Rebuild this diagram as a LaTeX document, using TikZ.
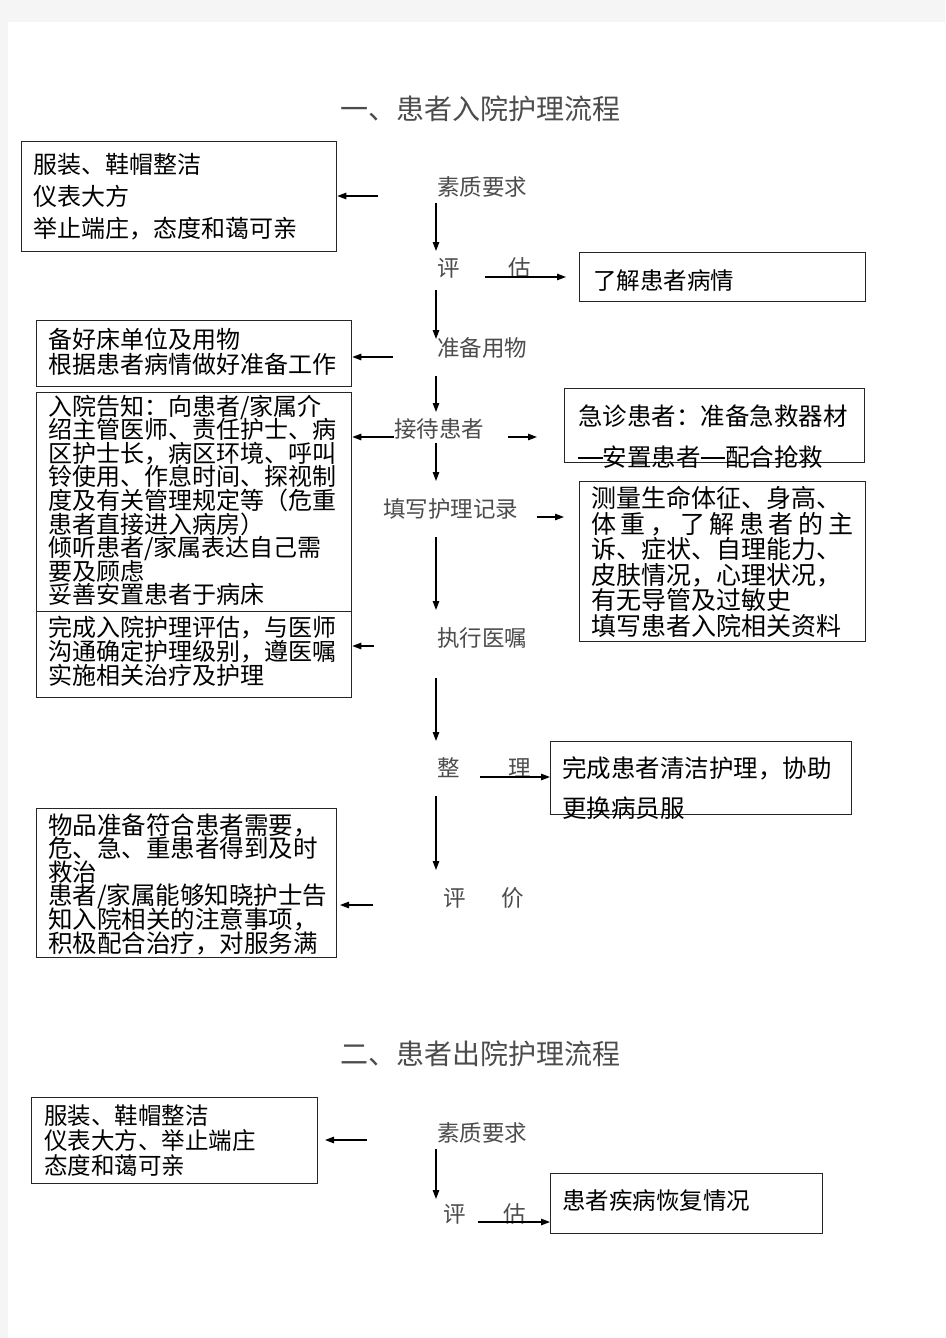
\documentclass[tikz,border=0pt]{standalone}
\usepackage{fontspec}
\newfontfamily\hei{Noto Sans CJK SC}
\usetikzlibrary{arrows.meta}
\newcommand\hzf[2]{\hei\fontsize{#1}{#2}\selectfont\lineskiplimit=-1000pt\lineskip=0pt}
\newcommand\emdsh{\rule[0.3em]{1em}{0.06em}}
\begin{document}
\begin{tikzpicture}[x=1pt,y=-1pt,
  bx/.style={draw=black!85, line width=1.3pt, inner sep=0pt, anchor=north west},
  bt/.style={anchor=base west, inner sep=0pt, align=left},
  lb/.style={anchor=base west, inner sep=0pt, text=black!70, font={\hei\fontsize{22.5}{23}\selectfont}},
  ttl/.style={anchor=base west, inner sep=0pt, text=black!70, font={\hei\fontsize{28}{28}\selectfont}},
  arr/.style={line width=1.2pt, -{Triangle[length=9pt,width=6.5pt]}},
]
\useasboundingbox (0,0) rectangle (945,1338);
\fill[black!4] (0,0) rectangle (945,1338);
\fill[white] (8,22) rectangle (945,1338);

% titles
\node[ttl] (t1) at (340,119) {一、患者入院护理流程};
\node[ttl] (t2) at (340,1064) {二、患者出院护理流程};

% boxes
\node[bx, minimum width=315, minimum height=110] (A) at (21,141) {};
\node[bx, minimum width=286, minimum height=49]  (B) at (579,252) {};
\node[bx, minimum width=315, minimum height=66]  (C) at (36,320) {};
\node[bx, minimum width=315, minimum height=219] (D) at (36,392) {};
\node[bx, minimum width=315, minimum height=86]  (E) at (36,611) {};
\node[bx, minimum width=300, minimum height=74]  (F) at (564,388) {};
\node[bx, minimum width=286, minimum height=160] (G) at (579,481) {};
\node[bx, minimum width=301, minimum height=73]  (H) at (550,741) {};
\node[bx, minimum width=300, minimum height=149] (I) at (36,808) {};
\node[bx, minimum width=286, minimum height=86]  (J) at (31,1097) {};
\node[bx, minimum width=272, minimum height=60]  (K) at (550,1173) {};

% box texts (anchored at the baseline of the last line)
\node[bt, font={\hzf{24}{32}}] (At) at (33,237) {服装、鞋帽整洁\\仪表大方\\举止端庄，态度和蔼可亲};
\node[bt, font={\hzf{23.5}{24}}] (Bt) at (593,289) {了解患者病情};
\node[bt, font={\hzf{24}{25}}] (Ct) at (48,373) {备好床单位及用物\\根据患者病情做好准备工作};
\node[bt, font={\hzf{24}{23.6}}] (Dt) at (48,603.8) {入院告知：向患者/家属介\\绍主管医师、责任护士、病\\区护士长，病区环境、呼叫\\铃使用、作息时间、探视制\\度及有关管理规定等（危重\\患者直接进入病房）\\倾听患者/家属表达自己需\\要及顾虑\\妥善安置患者于病床};
\node[bt, font={\hzf{24}{24}}] (Et) at (48,684) {完成入院护理评估，与医师\\沟通确定护理级别，遵医嘱\\实施相关治疗及护理};
\node[bt, font={\hzf{24.5}{41}}] (Ft) at (578,466) {急诊患者：准备急救器材\\\emdsh 安置患者\emdsh 配合抢救};
\node[bt, font={\hzf{25}{25.6}}] (Gt) at (591,635.5) {测量生命体征、身高、\\\makebox[262pt][s]{体\hfil 重\hfil ，\hfil 了\hfil 解\hfil 患\hfil 者\hfil 的\hfil 主}\\诉、症状、自理能力、\\皮肤情况，心理状况，\\有无导管及过敏史\\填写患者入院相关资料};
\node[bt, font={\hzf{24.5}{40}}] (Ht) at (562,817) {完成患者清洁护理，协助\\更换病员服};
\node[bt, font={\hzf{24.5}{23.6}}] (It) at (48,952) {物品准备符合患者需要，\\危、急、重患者得到及时\\救治\\患者/家属能够知晓护士告\\知入院相关的注意事项，\\积极配合治疗，对服务满};
\node[bt, font={\hzf{23.5}{25}}] (Jt) at (44,1174) {服装、鞋帽整洁\\仪表大方、举止端庄\\态度和蔼可亲};
\node[bt, font={\hzf{23.5}{24}}] (Kt) at (562,1209) {患者疾病恢复情况};

% flow labels
\node[lb] (l1) at (437,195) {素质要求};
\node[lb] (l2a) at (437,276) {评};
\node[lb] (l2b) at (508,276) {估};
\node[lb] (l3) at (437,356) {准备用物};
\node[lb] (l4) at (394,437) {接待患者};
\node[lb] (l5) at (383,517) {填写护理记录};
\node[lb] (l6) at (437,646) {执行医嘱};
\node[lb] (l7a) at (437,776) {整};
\node[lb] (l7b) at (508,776) {理};
\node[lb] (l8a) at (443,906) {评};
\node[lb] (l8b) at (501,906) {价};
\node[lb] (m1) at (437,1141) {素质要求};
\node[lb] (m2a) at (443,1222) {评};
\node[lb] (m2b) at (503,1222) {估};

% vertical connectors
\coordinate (v1s) at (436,203);  \coordinate (v1e) at (436,251);
\coordinate (v2s) at (436,290);  \coordinate (v2e) at (436,339);
\coordinate (v3s) at (436,376);  \coordinate (v3e) at (436,412);
\coordinate (v4s) at (436,443);  \coordinate (v4e) at (436,481);
\coordinate (v5s) at (436,537);  \coordinate (v5e) at (436,610);
\coordinate (v6s) at (436,678);  \coordinate (v6e) at (436,741);
\coordinate (v7s) at (436,796);  \coordinate (v7e) at (436,870);
\coordinate (v8s) at (436,1149); \coordinate (v8e) at (436,1199);
\foreach \i in {1,...,8} {\draw[arr] (v\i s) -- (v\i e);}

% horizontal connectors
\coordinate (h1) at (378,196);  \draw[arr] (h1) -- (A.east |- h1);
\coordinate (h2s) at (485,277); \coordinate (h2e) at (566,277); \draw[arr] (h2s) -- (h2e);
\coordinate (h3) at (393,357);  \draw[arr] (h3) -- (C.east |- h3);
\coordinate (h4) at (394,437);  \draw[arr] (h4) -- (D.east |- h4);
\coordinate (h5s) at (508,437); \coordinate (h5e) at (537,437); \draw[arr] (h5s) -- (h5e);
\coordinate (h6s) at (537,517); \coordinate (h6e) at (564,517); \draw[arr] (h6s) -- (h6e);
\coordinate (h7) at (374,646);  \draw[arr] (h7) -- (E.east |- h7);
\coordinate (h8) at (480,777);  \draw[arr] (h8) -- (H.west |- h8);
\coordinate (h9s) at (373,905); \coordinate (h9e) at (340,905); \draw[arr] (h9s) -- (h9e);
\coordinate (h10s) at (367,1140); \coordinate (h10e) at (325,1140); \draw[arr] (h10s) -- (h10e);
\coordinate (h11) at (478,1222); \draw[arr] (h11) -- (K.west |- h11);
\end{tikzpicture}
\end{document}
